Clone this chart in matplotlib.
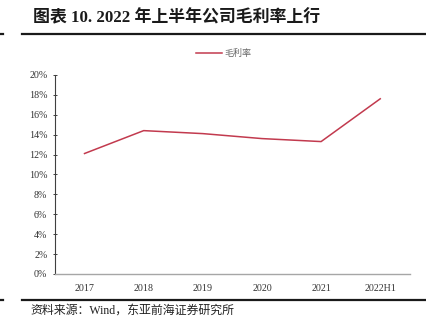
import matplotlib
matplotlib.use('Agg')
import matplotlib.pyplot as plt
from matplotlib.lines import Line2D
from matplotlib.ticker import FuncFormatter

plt.rcParams['font.family'] = ['Liberation Serif', 'Noto Sans CJK SC']

years = ['2017', '2018', '2019', '2020', '2021', '2022H1']
gross_margin = [12.1, 14.4, 14.1, 13.6, 13.3, 17.6]

fig = plt.figure(figsize=(4.26, 3.30), dpi=100)
ax = fig.add_axes([0.129, 0.170, 0.833, 0.603])

ax.plot(range(len(years)), gross_margin, color='#C23A4E', lw=1.1, label='毛利率')

ax.set_xlim(-0.5, len(years) - 0.5)
ax.set_ylim(0, 20)
ax.set_yticks(range(0, 21, 2))
ax.yaxis.set_major_formatter(FuncFormatter(lambda v, p: f'{v:.0f}%'))
ax.set_xticks(range(len(years)))
ax.set_xticklabels(years)

for s in ['top', 'right']:
    ax.spines[s].set_visible(False)
ax.spines['left'].set_color('#404040')
ax.spines['left'].set_linewidth(0.8)
ax.spines['bottom'].set_color('#A6A6A6')
ax.spines['bottom'].set_linewidth(1.0)
ax.tick_params(axis='y', direction='inout', length=3, width=0.7, color='#404040',
               labelsize=7.2, pad=4, labelcolor='#333333')
ax.tick_params(axis='x', length=0, labelsize=7.2, pad=7, labelcolor='#333333')

leg = ax.legend(loc='upper center', bbox_to_anchor=(0.476, 1.17), frameon=False,
                fontsize=6.5, handlelength=2.8, handletextpad=0.3)
for t in leg.get_texts():
    t.set_color('#666666')

# header and footer
fig.text(0.078, 0.945, '图表 10. 2022 年上半年公司毛利率上行', fontsize=12.2,
         fontweight='bold', va='center', ha='left', color='#1a1a1a')
for y in (0.897, 0.091):
    fig.add_artist(Line2D([0.052, 1.0], [y, y], color='#1a1a1a', lw=1.6))
    fig.add_artist(Line2D([0.0, 0.008], [y, y], color='#1a1a1a', lw=1.6))
fig.text(0.071, 0.058, '资料来源：Wind，东亚前海证券研究所', fontsize=8.6,
         va='center', ha='left', color='#222222')

fig.savefig('out.png', dpi=100)
